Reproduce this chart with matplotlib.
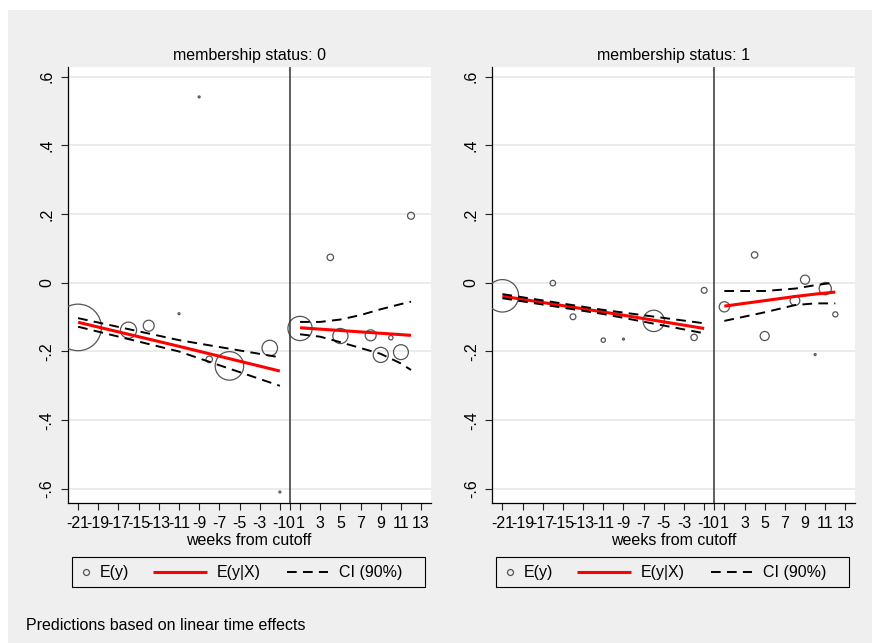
import matplotlib
matplotlib.use("Agg")
import matplotlib.pyplot as plt
from matplotlib.patches import Rectangle

plt.rcParams['font.family'] = ['Liberation Sans', 'DejaVu Sans']
plt.rcParams['lines.scale_dashes'] = False

# ---------------- data ----------------
panel_titles = ["membership status: 0", "membership status: 1"]

# binned means E(y) with cell sizes (bubble weights)
weeks0 = [-21, -16, -14, -11, -9, -8, -6, -2, -1, 1, 4, 5, 8, 9, 10, 11, 12]
ey0 = [-0.130, -0.138, -0.125, -0.090, 0.541, -0.223, -0.242, -0.190, -0.609,
       -0.133, 0.074, -0.155, -0.153, -0.210, -0.160, -0.202, 0.195]
n0 = [576, 69, 32, 1, 1, 11, 216, 64, 1, 156, 11, 61, 32, 61, 5, 59, 13]

weeks1 = [-21, -16, -14, -11, -9, -6, -2, -1, 1, 4, 5, 8, 9, 10, 11, 12]
ey1 = [-0.038, -0.001, -0.099, -0.167, -0.164, -0.111, -0.159, -0.022,
       -0.070, 0.081, -0.155, -0.052, 0.009, -0.209, -0.017, -0.092]
n1 = [280, 8, 9, 5, 1, 121, 11, 9, 28, 11, 22, 25, 22, 1, 40, 7]

# fitted values E(y|X) and 90% CI, membership 0
pre_w0 = [-21, -11, -1]
fit_pre0 = [-0.115, -0.185, -0.257]
hi_pre0 = [-0.103, -0.167, -0.217]
lo_pre0 = [-0.128, -0.200, -0.300]
post_w0 = [1, 3, 5, 7, 9, 11, 12]
fit_post0 = [-0.131, -0.135, -0.139, -0.143, -0.147, -0.151, -0.153]
hi_post0 = [-0.114, -0.114, -0.107, -0.094, -0.077, -0.062, -0.055]
lo_post0 = [-0.150, -0.157, -0.173, -0.190, -0.207, -0.235, -0.254]

# membership 1
pre_w1 = [-21, -11, -1]
fit_pre1 = [-0.039, -0.085, -0.133]
hi_pre1 = [-0.033, -0.079, -0.118]
lo_pre1 = [-0.045, -0.091, -0.147]
post_w1 = [1, 5, 8, 10, 12]
fit_post1 = [-0.068, -0.052, -0.040, -0.033, -0.027]
hi_post1 = [-0.024, -0.024, -0.017, -0.007, 0.001]
lo_post1 = [-0.111, -0.086, -0.065, -0.060, -0.060]

xtick_vals = [-21, -19, -17, -15, -13, -11, -9, -7, -5, -3, -1, 0, 1, 3, 5, 7, 9, 11, 13]
ytick_vals = [-0.6, -0.4, -0.2, 0, 0.2, 0.4, 0.6]
ytick_labels = ["-.6", "-.4", "-.2", "0", ".2", ".4", ".6"]
legend_labels = ["E(y)", "E(y|X)", "CI (90%)"]
caption = "Predictions based on linear time effects"

# ---------------- styling ----------------
W, H = 872, 643
FS = 11.5
MARKER_EC = '#555555'
RED = '#ff0000'
DASH = (0, (7, 4.5))

fig = plt.figure(figsize=(W / 100, H / 100), dpi=100)
fig.patch.set_facecolor('white')

bg = fig.add_axes([0, 0, 1, 1])
bg.set_xlim(0, W)
bg.set_ylim(H, 0)
bg.axis('off')
bg.set_zorder(-10)
bg.add_patch(Rectangle((8, 10), W - 8, H - 10, facecolor='#efefef', edgecolor='none'))

panels = [
    (67.7, weeks0, ey0, n0, pre_w0, fit_pre0, hi_pre0, lo_pre0,
     post_w0, fit_post0, hi_post0, lo_post0),
    (492.0, weeks1, ey1, n1, pre_w1, fit_pre1, hi_pre1, lo_pre1,
     post_w1, fit_post1, hi_post1, lo_post1),
]

ax_w = 363.0
ax_top, ax_bot = 66.7, 503.3

for i, (x0, wk, ey, n, pw, fpre, hpre, lpre, qw, fpost, hpost, lpost) in enumerate(panels):
    ax = fig.add_axes([x0 / W, (H - ax_bot) / H, ax_w / W, (ax_bot - ax_top) / H])
    ax.set_facecolor('white')
    ax.set_xlim(-22.03, 13.95)
    ax.set_ylim(-0.642, 0.629)
    for s in ['top', 'right']:
        ax.spines[s].set_visible(False)
    for s in ['left', 'bottom']:
        ax.spines[s].set_linewidth(0.9)
        ax.spines[s].set_color('black')

    ax.yaxis.grid(True, color='#e6e6e6', linewidth=1.1)
    ax.set_axisbelow(True)

    ax.set_yticks(ytick_vals)
    ax.set_yticklabels(ytick_labels, rotation=90, va='center', fontsize=FS)
    ax.set_xticks(xtick_vals)
    ax.set_xticklabels([str(v) for v in xtick_vals], fontsize=FS)
    ax.tick_params(axis='both', direction='out', length=5, width=0.8, color='#222222')
    ax.tick_params(axis='y', pad=4.5)
    ax.tick_params(axis='x', pad=4.5)

    ax.scatter(wk, ey, s=[v * 1.95 for v in n], facecolors='none',
               edgecolors=MARKER_EC, linewidths=0.9, zorder=3)

    ax.plot(pw, fpre, color=RED, lw=2.2, zorder=4, solid_capstyle='butt')
    ax.plot(qw, fpost, color=RED, lw=2.2, zorder=4, solid_capstyle='butt')
    for yy, xx in [(hpre, pw), (lpre, pw), (hpost, qw), (lpost, qw)]:
        ax.plot(xx, yy, color='black', lw=1.4, linestyle=DASH, zorder=4)

    ax.axvline(0, color='#333333', lw=1.1, zorder=5)

    ax.set_title(panel_titles[i], fontsize=FS, pad=5)
    ax.set_xlabel("weeks from cutoff", fontsize=FS, labelpad=1)

    # legend drawn in figure pixel coordinates
    lx = 72 + 424 * i
    ly = 572
    bg.add_patch(Rectangle((lx, 557), 353, 30, facecolor='none', edgecolor='black', lw=0.8))
    bg.plot([lx + 14], [ly], marker='o', ms=4.3, mfc='none', mec=MARKER_EC, mew=0.9)
    bg.text(lx + 28, ly, legend_labels[0], fontsize=FS, va='center', ha='left')
    bg.plot([lx + 81, lx + 135], [ly, ly], color=RED, lw=2.2, solid_capstyle='butt')
    bg.text(lx + 145, ly, legend_labels[1], fontsize=FS, va='center', ha='left')
    bg.plot([lx + 215, lx + 256], [ly, ly], color='black', lw=1.4, linestyle=DASH)
    bg.text(lx + 267, ly, legend_labels[2], fontsize=FS, va='center', ha='left')

bg.text(26, 626, caption, fontsize=FS, va='center', ha='left')

fig.savefig('out.png', dpi=100, facecolor=fig.get_facecolor())
